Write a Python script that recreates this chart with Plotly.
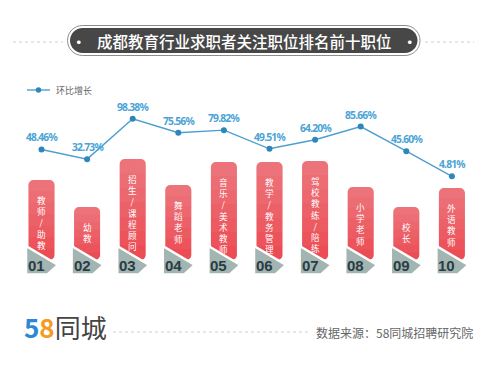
import plotly.graph_objects as go

# ---------------- data ----------------
ranks = ["01", "02", "03", "04", "05", "06", "07", "08", "09", "10"]
jobs = ["教师/助教", "幼教", "招生/课程顾问", "舞蹈老师", "音乐/美术教师",
        "教学/教务管理", "驾校教练/陪练", "小学老师", "校长", "外语教师"]
growth = [48.46, 32.73, 98.38, 75.56, 79.82, 49.51, 64.20, 85.66, 45.60, 4.81]
bar_len = [80, 53, 101, 75, 98, 98, 99, 73, 53, 72]
title_text = "成都教育行业求职者关注职位排名前十职位"
legend_text = "环比增长"
source_text = "数据来源：58同城招聘研究院"

W, H = 490, 365
CJK = "Noto Sans CJK SC"

def px(x):
    return x / W

def py(y):
    return 1 - y / H

idx = list(range(len(ranks)))
UNIT = 45.6          # pixels per category
BASE = 260           # bar base (pixel, on reversed y2 axis)

fig = go.Figure()

# red bars
fig.add_trace(go.Bar(
    x=idx, y=[-v for v in bar_len], base=BASE, width=0.57,
    marker=dict(color="#ec4c54", line=dict(width=0), cornerradius=5),
    yaxis="y2", showlegend=False, hoverinfo="skip"))

# light overlays from the top to imitate the vertical gradient
STEPS = 7
for k in range(1, STEPS):
    frac = k / STEPS
    fig.add_trace(go.Bar(
        x=idx, y=[v * frac for v in bar_len], base=[BASE - v for v in bar_len], width=0.57,
        marker=dict(color="rgba(255,255,255,0.045)", line=dict(width=0), cornerradius=0),
        yaxis="y2", showlegend=False, hoverinfo="skip"))

# grey pennants under rank numbers
for i in idx:
    dx = [-15.5 / UNIT, 16.5 / UNIT, 6 / UNIT, -15.5 / UNIT, -15.5 / UNIT]
    fig.add_trace(go.Scatter(
        x=[i + d for d in dx], y=[246, 265, 274.5, 274.5, 246],
        fill="toself", fillcolor="#a2b5b0", mode="lines",
        line=dict(color="white", width=2.5), yaxis="y2",
        showlegend=False, hoverinfo="skip"))

# growth line
fig.add_trace(go.Scatter(
    x=idx, y=growth, mode="lines+markers",
    line=dict(color="#4d9fd0", width=1.4),
    marker=dict(color="#2f86bb", size=6),
    showlegend=False, hoverinfo="skip"))

annotations = []
# value labels above points
for i, v in enumerate(growth):
    annotations.append(dict(
        x=i, y=v, xref="x", yref="y", yshift=12,
        text=f"<span style='letter-spacing:-0.8px'><b>{v:.2f}%</b></span>",
        showarrow=False,
        font=dict(family="Noto Sans, Liberation Sans", size=10.3, color="#4aa3d6"),
        xanchor="center", yanchor="middle"))
# vertical job names
for i, (job, ln) in enumerate(zip(jobs, bar_len)):
    top = BASE - ln
    annotations.append(dict(
        x=i, y=top + 12, xref="x", yref="y2", text="<br>".join(job),
        showarrow=False, font=dict(family=CJK, size=8.6, color="white"),
        xanchor="center", yanchor="top", align="center"))
# rank numbers
for i, r in enumerate(ranks):
    annotations.append(dict(
        x=i, y=265.5, xref="x", yref="y2", text=f"<b>{r}</b>", xshift=-5,
        showarrow=False, font=dict(family="Liberation Sans, Arial", size=15, color="#2b3c46"),
        xanchor="center", yanchor="middle"))

# title
annotations.append(dict(
    x=px(244), y=py(41), xref="paper", yref="paper",
    text="•   " + title_text + "   •", showarrow=False,
    font=dict(family=CJK, size=15.5, color="white", weight=500), xanchor="center", yanchor="middle"))
# legend text
annotations.append(dict(
    x=px(54), y=py(90), xref="paper", yref="paper", text=legend_text,
    showarrow=False, font=dict(family=CJK, size=9, color="#666666"),
    xanchor="left", yanchor="middle"))
# footer logo
annotations.append(dict(
    x=px(22), y=py(326), xref="paper", yref="paper",
    text="<span style='color:#2c88d6'><b>5</b></span><span style='color:#f59a23'><b>8</b></span>同城",
    showarrow=False, font=dict(family=CJK, size=26, color="#444444"),
    xanchor="left", yanchor="middle"))
annotations.append(dict(
    x=px(314), y=py(332), xref="paper", yref="paper", text=source_text,
    showarrow=False, font=dict(family=CJK, size=12, color="#666666"),
    xanchor="left", yanchor="middle"))


def pill(x0, y0, x1, y1):
    r = (y1 - y0) / 2
    c = 0.5523 * r
    pts = [
        f"M{px(x0 + r)},{py(y0)}", f"L{px(x1 - r)},{py(y0)}",
        f"C{px(x1 - r + c)},{py(y0)} {px(x1)},{py(y0 + r - c)} {px(x1)},{py(y0 + r)}",
        f"C{px(x1)},{py(y0 + r + c)} {px(x1 - r + c)},{py(y1)} {px(x1 - r)},{py(y1)}",
        f"L{px(x0 + r)},{py(y1)}",
        f"C{px(x0 + r - c)},{py(y1)} {px(x0)},{py(y0 + r + c)} {px(x0)},{py(y0 + r)}",
        f"C{px(x0)},{py(y0 + r - c)} {px(x0 + r - c)},{py(y0)} {px(x0 + r)},{py(y0)}", "Z"]
    return " ".join(pts)

shapes = [
    dict(type="path", xref="paper", yref="paper", path=pill(67.5, 25.5, 420, 55.5),
         fillcolor="white", line=dict(color="#8c8c8c", width=1)),
    dict(type="path", xref="paper", yref="paper", path=pill(70, 28, 417.5, 53),
         fillcolor="#474747", line=dict(width=0)),
    dict(type="line", xref="paper", yref="paper", x0=px(13), x1=px(63), y0=py(42), y1=py(42),
         line=dict(color="#cfcfcf", width=1, dash="dot")),
    dict(type="line", xref="paper", yref="paper", x0=px(425), x1=px(474), y0=py(42), y1=py(42),
         line=dict(color="#cfcfcf", width=1, dash="dot")),
    # legend line + marker
    dict(type="line", xref="paper", yref="paper", x0=px(27), x1=px(50), y0=py(90), y1=py(90),
         line=dict(color="#4d9fd0", width=1.4)),
    dict(type="circle", xref="paper", yref="paper", x0=px(35.8), x1=px(41.2), y0=py(87.3), y1=py(92.7),
         fillcolor="#2f86bb", line=dict(width=0)),
    # footer dotted line
    dict(type="line", xref="paper", yref="paper", x0=px(113), x1=px(308), y0=py(332), y1=py(332),
         line=dict(color="#cfcfcf", width=1, dash="dot")),
]

fig.update_layout(
    width=W, height=H, margin=dict(l=0, r=0, t=0, b=0), autosize=False,
    paper_bgcolor="white", plot_bgcolor="rgba(0,0,0,0)",
    barmode="overlay",
    xaxis=dict(range=[-41.5 / UNIT, (W - 41.5) / UNIT], visible=False, fixedrange=True),
    yaxis=dict(range=[(179.26 - H) / 0.615, 179.26 / 0.615], visible=False, fixedrange=True),
    yaxis2=dict(range=[H, 0], overlaying="y", visible=False, fixedrange=True),
    annotations=annotations, shapes=shapes,
)

fig.write_html("out.html", config={"displayModeBar": False},
               post_script="document.body.style.margin='0';")
